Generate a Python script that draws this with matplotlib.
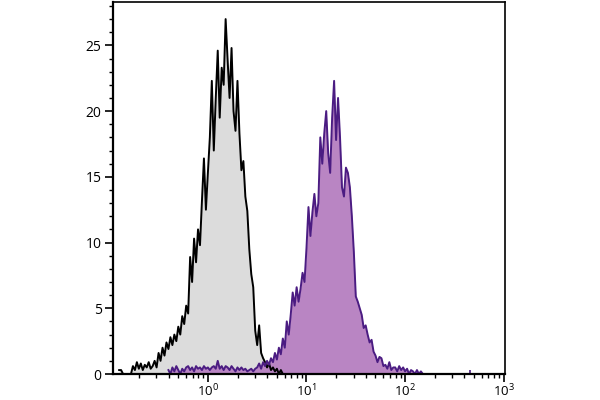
import numpy as np
import matplotlib
matplotlib.use("Agg")
import matplotlib.pyplot as plt
from matplotlib.ticker import LogLocator, MultipleLocator, NullFormatter

# Histogram channels: log10 start and width of one channel (decades)
bin_width = 0.02

# Isotype control (gray)
control_start = -0.90
control_counts = [
    0.3, 0.3, 0, 0, 0, 0, 0, 0.6, 0.3, 0.9,
    0.4, 0.8, 0.3, 0.7, 0.5, 0.9, 0.4, 0.6, 1.0, 0.5,
    1.6, 1.0, 2.0, 1.4, 2.4, 1.9, 2.8, 2.2, 3.0, 2.5,
    3.6, 3.0, 4.4, 3.8, 5.2, 4.6, 8.9, 7.0, 10.3, 8.5,
    11.0, 9.8, 13.2, 16.4, 12.5, 15.3, 18.0, 22.3, 17.0, 21.0,
    24.6, 19.5, 23.3, 22.0, 27.0, 23.9, 21.0, 24.8, 20.0, 18.5,
    22.3, 18.3, 15.5, 16.2, 13.5, 12.4, 9.5, 7.6, 6.6, 3.3,
    2.2, 3.7, 1.6, 1.2, 0.9, 0.5, 0.8, 0.3, 0.5, 0.2,
    0.4, 0, 0.3, 0, 0,
]

# Stained sample (purple)
stained_start = -0.40
stained_counts = [
    0.3, 0, 0.5, 0.2, 0.6, 0.3, 0, 0.4, 0.2, 0.5,
    0.6, 0.3, 0.5, 0.2, 0.6, 0.4, 0.5, 0.3, 0.6, 0.4,
    0.5, 0.3, 0.5, 0.6, 0.4, 1.0, 0.4, 0.6, 0.3, 0.6,
    0.5, 0.3, 0.6, 0.4, 0.2, 0.5, 0.3, 0.5, 0.3, 0.4,
    0.2, 0.3, 0.4, 0.2, 0.4, 0.5, 0.8, 0.4, 0.9, 0.6,
    1.0, 0.7, 1.2, 0.9, 1.6, 1.1, 2.0, 1.5, 2.7, 2.0,
    4.0, 3.0, 4.5, 6.2, 5.2, 6.6, 5.5, 6.5, 7.7, 7.0,
    9.6, 12.7, 10.5, 12.3, 13.7, 12.0, 13.0, 18.0, 16.0, 18.3,
    20.0, 16.8, 15.3, 19.5, 22.3, 17.8, 21.0, 18.0, 14.2, 13.5,
    15.7, 15.3, 14.2, 12.0, 9.3, 5.9, 5.5, 5.0, 4.5, 3.5,
    3.7, 3.0, 2.4, 2.6, 1.7, 1.4, 0.9, 1.3, 1.2, 0.6,
    0.7, 0.4, 0.9, 0.3, 0.5, 0.5, 0.2, 0.6, 0.3, 0.5,
    0.2, 0.4, 0, 0.3, 0.2, 0, 0.3, 0, 0.2, 0,
]

# a few stray events far to the right
stray_x = [458]
stray_y = [0.3]

x_ticks = [1e0, 1e1, 1e2, 1e3]
x_tick_labels = ["$10^{0}$", "$10^{1}$", "$10^{2}$", "$10^{3}$"]
y_ticks = [0, 5, 10, 15, 20, 25]


def centres(start, n):
    return 10 ** (start + bin_width * np.arange(n))


plt.rcParams["font.family"] = ["Open Sans", "DejaVu Sans"]
plt.rcParams["mathtext.fontset"] = "custom"
plt.rcParams["mathtext.rm"] = "Open Sans"

fig = plt.figure(figsize=(6, 4), dpi=100)
ax = fig.add_axes([0.188, 0.065, 0.654, 0.93])

xc = centres(control_start, len(control_counts))
ax.fill_between(xc, control_counts, 0, color="#dcdcdc", lw=0)
ax.plot(xc, control_counts, color="black", lw=1.4)

xs = centres(stained_start, len(stained_counts))
ax.fill_between(xs, stained_counts, 0, color="#b985c3", lw=0)
ax.plot(xs, stained_counts, color="#4b1c82", lw=1.4)
ax.vlines(stray_x, 0, stray_y, color="#4b1c82", lw=1.2)

ax.set_xscale("log")
ax.set_xlim(0.1086, 1035)
ax.set_ylim(0, 28.3)

ax.set_xticks(x_ticks)
ax.set_xticklabels(x_tick_labels)
ax.xaxis.set_minor_locator(LogLocator(base=10, subs=np.arange(2, 10)))
ax.xaxis.set_minor_formatter(NullFormatter())
ax.set_yticks(y_ticks)
ax.yaxis.set_minor_locator(MultipleLocator(1))

ax.tick_params(axis="both", which="major", direction="out", length=6, width=1.2,
               labelsize=10, color="black")
ax.tick_params(axis="both", which="minor", direction="out", length=3, width=1.0)
ax.tick_params(axis="x", pad=0, labelsize=9.5)
ax.tick_params(axis="y", pad=2)

for side in ["left", "bottom"]:
    ax.spines[side].set_linewidth(1.6)
for side in ["top", "right"]:
    ax.spines[side].set_linewidth(1.2)

fig.savefig("out.png", dpi=100)
